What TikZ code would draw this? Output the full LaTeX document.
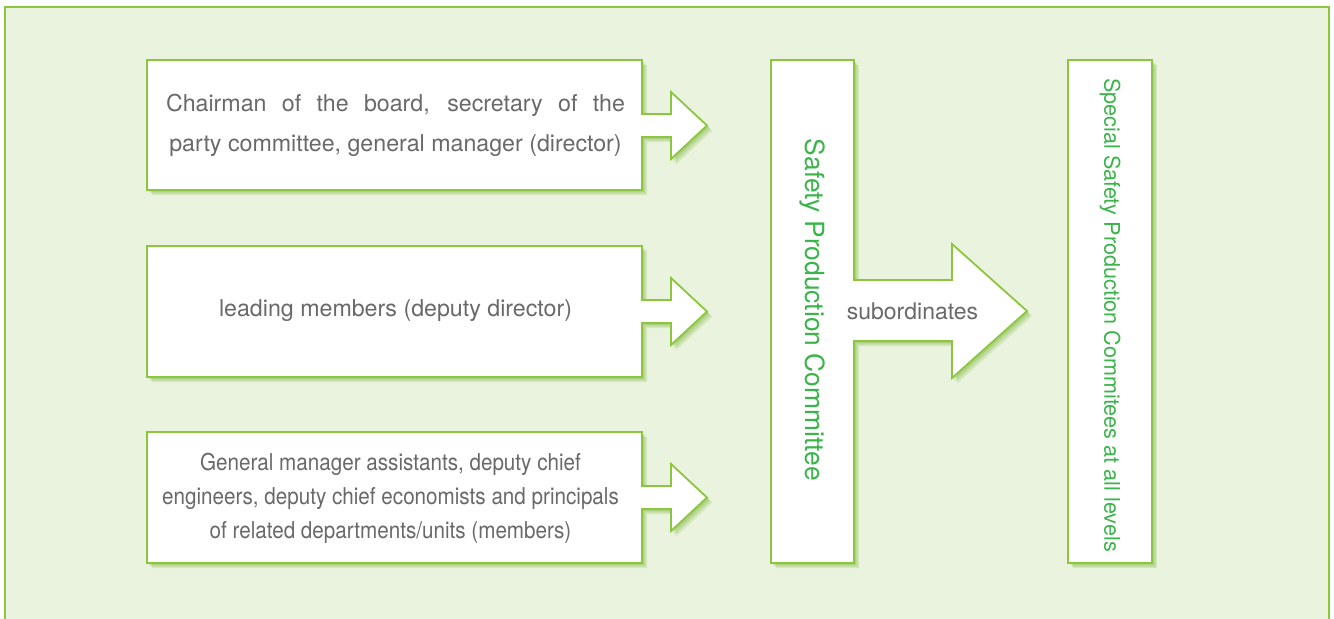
\documentclass[tikz,border=0pt]{standalone}
\usepackage{fontspec}
\setmainfont{TeX Gyre Heros}
\definecolor{bgc}{RGB}{234,243,222}
\definecolor{linec}{RGB}{140,198,63}
\definecolor{shadowc}{RGB}{120,180,50}
\definecolor{textc}{RGB}{105,105,105}
\definecolor{vtextc}{RGB}{57,181,74}
\begin{document}
\begin{tikzpicture}[x=0.5pt,y=-0.5pt,
  shadowed/.style={
    preaction={fill=shadowc, opacity=0.18, transform canvas={shift={(2.6pt,-2.6pt)}}},
    preaction={fill=shadowc, opacity=0.22, transform canvas={shift={(1.8pt,-1.8pt)}}},
    preaction={fill=shadowc, opacity=0.25, transform canvas={shift={(1.0pt,-1.0pt)}}}},
  blockshape/.style={shadowed, draw=linec, line width=0.9pt, fill=white, line join=miter},
  boxtext/.style={text=textc, font=\fontsize{11.6}{20}\selectfont, align=center, inner sep=0pt},
  vtext/.style={text=vtextc, rotate=-90, inner sep=0pt}
]
\useasboundingbox (0,0) rectangle (1334,618);
\fill[white] (0,0) rectangle (1334,618);
% outer frame
\fill[bgc] (5,7) rectangle (1329,640);
\draw[linec, line width=1pt] (5,640) -- (5,7) -- (1329,7) -- (1329,640);

% box 1 with arrow
\draw[blockshape] (147,60) -- (642,60) -- (642,114) -- (671,114) -- (671,92) -- (707,125.5)
  -- (671,159) -- (671,137) -- (642,137) -- (642,190) -- (147,190) -- cycle;
% box 2 with arrow
\draw[blockshape] (147,246) -- (642,246) -- (642,300) -- (671,300) -- (671,278) -- (707,311.5)
  -- (671,345) -- (671,323) -- (642,323) -- (642,377) -- (147,377) -- cycle;
% box 3 with arrow
\draw[blockshape] (147,432) -- (642,432) -- (642,486) -- (671,486) -- (671,464) -- (707,497.5)
  -- (671,531) -- (671,509) -- (642,509) -- (642,563) -- (147,563) -- cycle;
% committee with arrow
\draw[blockshape] (771,60) -- (854,60) -- (854,280) -- (952,280) -- (952,244) -- (1027,311)
  -- (952,378) -- (952,341) -- (854,341) -- (854,563) -- (771,563) -- cycle;
% special committees
\draw[blockshape] (1068,60) rectangle (1152,563);

% texts
\node[boxtext] (t1) at (395.5,125) {\makebox[229.5pt][s]{Chairman of the board, secretary of the}\\party committee, general manager (director)};
\node[boxtext] (t2) at (395.5,311) {leading members (deputy director)};
\node[boxtext, font=\fontsize{11.6}{17}\selectfont] (t3) at (390.5,498) {\scalebox{0.89}[1]{\begin{tabular}{@{}c@{}}General manager assistants, deputy chief\\[0pt]engineers, deputy chief economists and principals\\[0pt]of related departments/units (members)\end{tabular}}};
\node[vtext, font=\fontsize{13.2}{16}\selectfont] (spc) at (812.5,310) {Safety Production Committee};
\node[boxtext, font=\fontsize{11.5}{14}\selectfont] (sub) at (912.5,311) {subordinates};
\node[vtext, font=\fontsize{10.8}{14}\selectfont] (ssc) at (1110,315) {Special Safety Production Commitees at all levels};
\end{tikzpicture}
\end{document}
